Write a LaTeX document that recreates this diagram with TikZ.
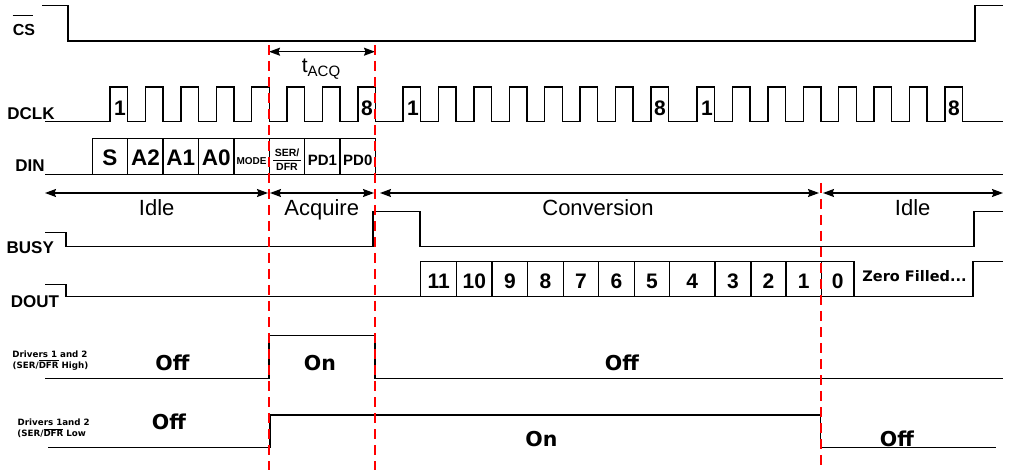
\documentclass[tikz,border=0pt]{standalone}
\usepackage{fontspec}
\setmainfont{Liberation Sans}
\newfontfamily\tahfont{DejaVu Sans}
\usetikzlibrary{arrows.meta}
\newcommand{\pxsize}[1]{\fontsize{#1}{#1}\selectfont}

\begin{document}
\begin{tikzpicture}[x=1pt,y=-1pt,
    wave/.style={line width=1.4pt},
    cut/.style={draw=red,line width=1.5pt,dash pattern=on 10pt off 6pt},
    span/.style={line width=1.2pt,{Stealth[length=11pt,width=8pt,inset=1.5pt]}-{Stealth[length=11pt,width=8pt,inset=1.5pt]}},
    sig/.style={inner sep=0pt,anchor=base,font=\pxsize{17}\bfseries},
    bit/.style={inner sep=0pt,anchor=base,font=\pxsize{21}\bfseries},
    cell/.style={inner sep=0pt,anchor=base,font=\pxsize{22.5}\bfseries},
    phase/.style={inner sep=0pt,anchor=base,font=\pxsize{22}},
    drv/.style={inner sep=0pt,anchor=base,font=\tahfont\pxsize{8.7}\bfseries},
    state/.style={inner sep=0pt,anchor=base,font=\tahfont\pxsize{20.5}\bfseries}]
\useasboundingbox (0,0) rectangle (1009,470);

% signal names
\node[sig,font=\pxsize{16}\bfseries] (cs) at (24,35.7) {CS};
\draw[line width=1.4pt] ([yshift=9pt]cs.north west) -- ([yshift=9pt,xshift=-2pt]cs.north east);
\node[sig] (dclk) at (31,119.3) {DCLK};
\node[sig] (din) at (30,172) {DIN};
\node[sig] (busy) at (30.3,254) {BUSY};
\node[sig] (dout) at (35,307) {DOUT};
\node[drv] (drvHa) at (50,357.3) {Drivers 1 and 2};
\node[drv] (drvHb) at (50.5,368.3) {(SER/$\overline{\mbox{DFR}}$ High)};
\node[drv] (drvLa) at (53.7,425) {Drivers 1and 2};
\node[drv] (drvLb) at (51.7,436.7) {(SER/$\overline{\mbox{DFR}}$ Low};

% CS
\draw[wave] (42,5.5) -- (68,5.5) -- (68,41) -- (975,41) -- (975,5.5) -- (1003,5.5);

% DCLK, three bursts of 8
\draw[wave] (45,121.5) -- (110,121.5)
  \foreach \k in {1,...,8}{ -- ++(0,-34.5) -- ++(17.7,0) -- ++(0,34.5) -- ++(17.7,0) }
  -- (403,121.5)
  \foreach \k in {1,...,8}{ -- ++(0,-34.5) -- ++(17.7,0) -- ++(0,34.5) -- ++(17.7,0) }
  -- (697,121.5)
  \foreach \k in {1,...,8}{ -- ++(0,-34.5) -- ++(17.7,0) -- ++(0,34.5) -- ++(17.7,0) }
  -- (1003,121.5);
\foreach \r/\n in {110/a,403/b,697/c}{
  \node[bit] (first\n) at (\r+10,116) {1};
  \node[bit] (last\n) at (\r+7*35.4+17.7-8.5,116) {8};
}

% DIN
\draw[wave] (45,174.3) -- (1003,174.3);
\foreach \i in {0,...,7}
  \draw[wave] ({92.3+35.4*\i},138.5) rectangle ++(35.4,35.8);
\node[cell] (ds) at (110,165.5) {S};
\node[cell] (da2) at (145.4,165.5) {A2};
\node[cell] (da1) at (180.8,165.5) {A1};
\node[cell] (da0) at (216.2,165.5) {A0};
\node[cell,font=\pxsize{10}\bfseries] (dmode) at (251.6,165) {MODE};
\node[inner sep=0pt,font=\pxsize{10.5}\bfseries] (dser) at (287,161.5)
  {\setlength{\tabcolsep}{1.6pt}\setlength{\arrayrulewidth}{0.9pt}\begin{tabular}{c}SER/\\\hline\rule{0pt}{9.5pt}DFR\end{tabular}};
\node[cell,font=\pxsize{15}\bfseries] (dpd1) at (322.4,165.5) {PD1};
\node[cell,font=\pxsize{15}\bfseries] (dpd0) at (357.8,165.5) {PD0};

% phases
\draw[span] (269,51.7) -- (375,51.7);
\node[phase,font=\pxsize{21}] (tacq) at (321,73) {t\raisebox{-4pt}{\pxsize{15}ACQ}};
\draw[span] (45,193) -- (268,193);
\draw[span] (270,193) -- (374,193);
\draw[span] (380,193) -- (819,193);
\draw[span] (823,193) -- (1003,193);
\node[phase] (idle1) at (156.7,216) {Idle};
\node[phase] (acq) at (321.7,216) {Acquire};
\node[phase] (conv) at (598,216) {Conversion};
\node[phase] (idle2) at (912.7,216) {Idle};

% BUSY
\draw[wave] (45,232.7) -- (66,232.7) -- (66,246.7) -- (373,246.7) -- (373,211.7)
  -- (420,211.7) -- (420,246.7) -- (974,246.7) -- (974,211.7) -- (1003,211.7);

% DOUT
\draw[wave] (45,284.3) -- (66,284.3) -- (66,296.7) -- (973,296.7) -- (973,261.7) -- (1003,261.7);
\foreach \a/\b/\n in {420.7/456.5/11,456.5/492/10,492/527.7/9,527.7/563.3/8,563.3/598.5/7,
    598.5/634.3/6,634.3/669.5/5,669.5/715/4,715/751/3,751/786/2,786/821.5/1,821.5/854/0}{
  \draw[wave] (\a,261.7) rectangle (\b,296.7);
  \node[bit] (q\n) at ({(\a+\b)/2},288.5) {\n};
}
\node[state,font=\tahfont\pxsize{14.5}\bfseries] (zero) at (914.5,281.7) {Zero Filled...};

% drivers
\draw[wave] (45,378.7) -- (269,378.7) -- (269,335.7) -- (375,335.7) -- (375,378.7) -- (1003,378.7);
\draw[wave] (48.3,447.3) -- (270,447.3) -- (270,415) -- (820.5,415) -- (820.5,447.3) -- (996,447.3);
\node[state] (offH1) at (172.5,370) {Off};
\node[state] (onH) at (320,370) {On};
\node[state] (offH2) at (622,370) {Off};
\node[state] (offL1) at (169,429.5) {Off};
\node[state] (onL) at (541.5,446) {On};
\node[state] (offL2) at (897,446) {Off};

% time marks
\draw[cut] (269,45) -- (269,470) (375,45) -- (375,470) (821,183) -- (821,470);
\end{tikzpicture}
\end{document}
